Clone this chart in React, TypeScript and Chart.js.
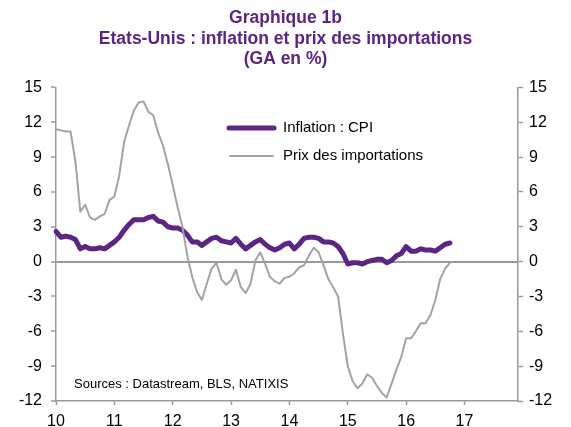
import React, { useEffect, useRef } from "react";
import { Chart, registerables } from "chart.js";

Chart.register(...registerables);

// ---- Data (monthly, Jan 2010 .. Oct 2016) ----
const years = [2010, 2011, 2012, 2013, 2014, 2015, 2016, 2017];
const yearTickLabels = ["10", "11", "12", "13", "14", "15", "16", "17"];

const cpi = [
  2.6, 2.1, 2.2, 2.1, 1.9, 1.1, 1.3, 1.1, 1.1, 1.2, 1.1, 1.4,
  1.7, 2.1, 2.7, 3.2, 3.6, 3.6, 3.6, 3.8, 3.9, 3.5, 3.4, 3.0,
  2.9, 2.9, 2.7, 2.3, 1.7, 1.7, 1.4, 1.7, 2.0, 2.1, 1.8, 1.7,
  1.6, 2.0, 1.5, 1.1, 1.4, 1.7, 1.9, 1.5, 1.2, 1.0, 1.2, 1.5,
  1.6, 1.1, 1.5, 2.0, 2.1, 2.1, 2.0, 1.7, 1.7, 1.6, 1.3, 0.7,
  -0.2, -0.1, -0.1, -0.2, 0.0, 0.1, 0.2, 0.2, -0.1, 0.1, 0.5, 0.7,
  1.3, 0.9, 0.9, 1.1, 1.0, 1.0, 0.9, 1.2, 1.5, 1.6,
];

const importPrices = [
  11.4, 11.3, 11.2, 11.2, 8.6, 4.3, 4.9, 3.8, 3.6, 3.9, 4.1, 5.3,
  5.6, 7.4, 10.3, 11.7, 13.0, 13.7, 13.8, 12.9, 12.6, 11.1, 10.0, 8.4,
  6.6, 4.7, 3.0, 0.5, -1.3, -2.6, -3.3, -1.9, -0.6, -0.1, -1.5, -2.0,
  -1.6, -0.7, -2.2, -2.7, -1.9, 0.1, 0.8, -0.2, -1.3, -1.7, -1.9, -1.4,
  -1.3, -1.0, -0.5, -0.3, 0.5, 1.2, 0.8, -0.3, -1.5, -2.2, -3.0, -6.2,
  -9.0, -10.3, -10.9, -10.5, -9.7, -10.0, -10.7, -11.3, -11.7, -10.5, -9.3, -8.2,
  -6.6, -6.6, -6.0, -5.3, -5.3, -4.6, -3.3, -1.5, -0.6, -0.1,
];

const seriesNames = ["Inflation : CPI", "Prix des importations"];
const titleLines = ["Graphique 1b", "Etats-Unis : inflation et prix des importations", "(GA en %)"];
const sourceText = "Sources : Datastream, BLS, NATIXIS";

const months: string[] = [];
years.forEach((y) => {
  for (let m = 1; m <= 12; m++) months.push(`${y}-${String(m).padStart(2, "0")}`);
});

const PURPLE = "#5C2483";
const GRAY_LINE = "#A3A3A3";
const AXIS = "#999999";
const FONT = "'Liberation Sans', Arial, Helvetica, sans-serif";

const overlayPlugin = {
  id: "overlay",
  afterDraw(chart: any) {
    const ctx = chart.ctx;
    const ds = chart.data.datasets;
    ctx.save();
    ctx.font = `15px ${FONT}`;
    ctx.textBaseline = "middle";
    ctx.fillStyle = "#000";
    const items = [
      { y: 128, x0: 229, x1: 274, color: ds[0].borderColor, w: 5, label: seriesNames[0] },
      { y: 156, x0: 230, x1: 273, color: ds[1].borderColor, w: 2, label: seriesNames[1] },
    ];
    items.forEach((it) => {
      ctx.beginPath();
      ctx.strokeStyle = it.color;
      ctx.lineWidth = it.w;
      ctx.lineCap = "round";
      ctx.moveTo(it.x0, it.y);
      ctx.lineTo(it.x1, it.y);
      ctx.stroke();
      ctx.fillText(it.label, 283, it.y);
    });
    ctx.font = `13px ${FONT}`;
    ctx.fillText(sourceText, 74, 384);
    ctx.restore();
  },
};

export default function App() {
  const ref = useRef<HTMLCanvasElement | null>(null);

  useEffect(() => {
    if (!ref.current) return;
    const chart = new Chart(ref.current, {
      type: "line",
      data: {
        labels: months,
        datasets: [
          {
            label: seriesNames[0],
            data: cpi,
            borderColor: PURPLE,
            borderWidth: 5,
            pointRadius: 0,
            tension: 0,
            borderJoinStyle: "round",
            borderCapStyle: "round",
            yAxisID: "y",
            order: 2,
          },
          {
            label: seriesNames[1],
            data: importPrices,
            borderColor: GRAY_LINE,
            borderWidth: 2,
            pointRadius: 0,
            tension: 0,
            borderJoinStyle: "round",
            yAxisID: "y",
            order: 1,
          },
        ],
      },
      options: {
        responsive: false,
        animation: false,
        layout: { padding: 0 },
        plugins: {
          legend: { display: false },
          tooltip: { enabled: false },
          title: {
            display: true,
            text: titleLines,
            color: PURPLE,
            font: { family: FONT, size: 17.5, weight: "bold", lineHeight: 1.17 },
            padding: { top: 8, bottom: 18 },
          },
        },
        scales: {
          x: {
            type: "category",
            offset: false,
            afterFit: (s: any) => {
              s.height = 26;
            },
            grid: {
              drawOnChartArea: false,
              drawTicks: true,
              tickLength: 4,
              tickColor: AXIS,
              tickWidth: 1.5,
            },
            border: { display: true, color: AXIS, width: 1.5 },
            ticks: {
              autoSkip: false,
              maxRotation: 0,
              padding: 7,
              color: "#000",
              font: { family: FONT, size: 16 },
              callback: (_v: any, i: number) => (i % 12 === 0 ? yearTickLabels[i / 12] : null),
            },
          },
          y: {
            position: "left",
            min: -12,
            max: 15,
            afterFit: (s: any) => {
              s.width = 56;
            },
            grid: {
              drawOnChartArea: true,
              color: (c: any) => (c.tick && c.tick.value === 0 ? AXIS : "rgba(0,0,0,0)"),
              lineWidth: 2,
              drawTicks: true,
              tickLength: 5,
              tickColor: AXIS,
              tickWidth: 1.5,
            },
            border: { display: true, color: AXIS, width: 1.5 },
            ticks: {
              stepSize: 3,
              padding: 9,
              color: "#000",
              font: { family: FONT, size: 16 },
            },
          },
          y1: {
            position: "right",
            min: -12,
            max: 15,
            afterFit: (s: any) => {
              s.width = 53;
            },
            grid: {
              drawOnChartArea: false,
              drawTicks: true,
              tickLength: 5,
              tickColor: AXIS,
              tickWidth: 1.5,
            },
            border: { display: true, color: AXIS, width: 1.5 },
            ticks: {
              stepSize: 3,
              padding: 6,
              color: "#000",
              font: { family: FONT, size: 16 },
            },
          },
        },
      },
      plugins: [overlayPlugin],
    } as any);
    return () => chart.destroy();
  }, []);

  return (
    <div style={{ position: "fixed", left: 0, top: 0, width: 571, height: 427, background: "#fff" }}>
      <canvas ref={ref} width={571} height={427} style={{ display: "block" }} />
    </div>
  );
}
